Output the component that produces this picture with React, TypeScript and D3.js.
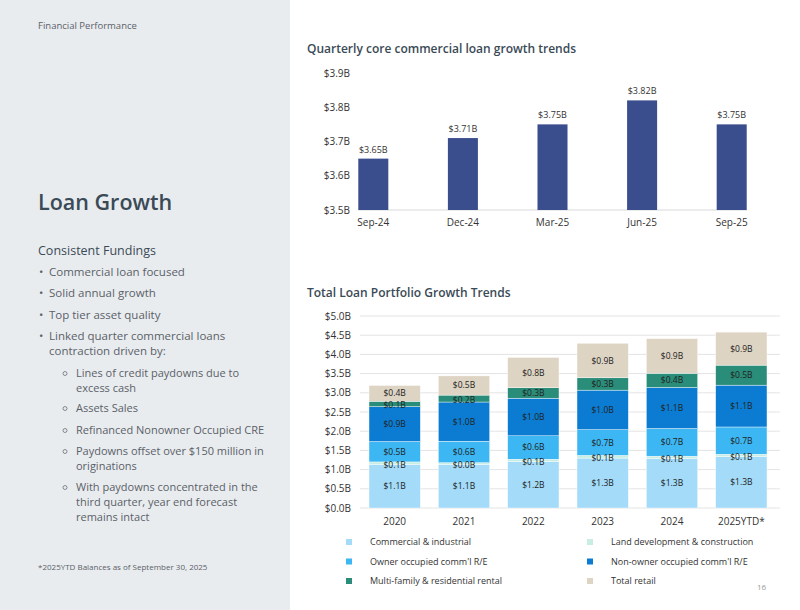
import React from 'react';
import * as d3 from 'd3';

// quarterly core commercial loans ($B)
const quarters = ['Sep-24', 'Dec-24', 'Mar-25', 'Jun-25', 'Sep-25'];
const coreLoans = [3.65, 3.71, 3.75, 3.82, 3.75];
const coreTicks = [3.5, 3.6, 3.7, 3.8, 3.9];

// total loan portfolio by type ($B)
const years = ['2020', '2021', '2022', '2023', '2024', '2025YTD*'];
const commercialIndustrial = [1.14, 1.14, 1.21, 1.3, 1.29, 1.34];
const landDevelopment = [0.06, 0.04, 0.06, 0.07, 0.06, 0.06];
const ownerOccupied = [0.53, 0.56, 0.61, 0.67, 0.72, 0.71];
const nonOwnerOccupied = [0.91, 1.02, 0.98, 1.03, 1.07, 1.09];
const multiFamily = [0.14, 0.18, 0.27, 0.32, 0.37, 0.52];
const totalRetail = [0.41, 0.5, 0.79, 0.9, 0.9, 0.86];
const portfolioTicks = [0, 0.5, 1, 1.5, 2, 2.5, 3, 3.5, 4, 4.5, 5];

const seriesNames = [
  'Commercial & industrial',
  'Land development & construction',
  'Owner occupied comm\'l R/E',
  'Non-owner occupied comm\'l R/E',
  'Multi-family & residential rental',
  'Total retail',
];
const seriesValues = [commercialIndustrial, landDevelopment, ownerOccupied, nonOwnerOccupied, multiFamily, totalRetail];
const seriesColors = ['#a3dbf9', '#c8eee4', '#3cb7f3', '#0b7cd1', '#2a8d79', '#ded4c4'];

const FONT = '"Open Sans", "Noto Sans", sans-serif';
const dark = '#3a4a56';
const body = '#5a6168';

const bullets: [string, number][] = [
  ['Commercial loan focused', 276],
  ['Solid annual growth', 297],
  ['Top tier asset quality', 319],
  ['Linked quarter commercial loans', 340],
];
const subBullets: [string[], number][] = [
  [['Lines of credit paydowns due to', 'excess cash'], 377],
  [['Assets Sales'], 412],
  [['Refinanced Nonowner Occupied CRE'], 434],
  [['Paydowns offset over $150 million in', 'originations'], 455],
  [['With paydowns concentrated in the', 'third quarter, year end forecast', 'remains intact'], 491],
];

const CoreChart: React.FC = () => {
  const x = d3.scaleBand<string>().domain(quarters).range([328.5, 776.5]).paddingInner(0.665).paddingOuter(0.3325);
  const y = d3.scaleLinear().domain([3.5, 3.9]).range([210, 73]);
  const bw = x.bandwidth();
  return (
    <g fontFamily={FONT}>
      <text x={307} y={53} fontSize={12} fontWeight={600} fill={dark}>Quarterly core commercial loan growth trends</text>
      {coreTicks.map(t => (
        <text key={t} x={350} y={y(t)} dy="0.35em" textAnchor="end" fontSize={10} fill="#333">{`$${t.toFixed(1)}B`}</text>
      ))}
      <line x1={x(quarters[0])!} x2={x(quarters[quarters.length - 1])! + bw} y1={y(3.5)} y2={y(3.5)} stroke="#d9d9d9" />
      {quarters.map((q, i) => (
        <g key={q}>
          <rect x={x(q)} y={y(coreLoans[i])} width={bw} height={y(3.5) - y(coreLoans[i])} fill="#3a4d8c" />
          <text x={x(q)! + bw / 2} y={y(coreLoans[i]) - 6} textAnchor="middle" fontSize={9} fill="#333">{`$${coreLoans[i].toFixed(2)}B`}</text>
          <text x={x(q)! + bw / 2} y={226} textAnchor="middle" fontSize={10} fill="#333">{q}</text>
        </g>
      ))}
    </g>
  );
};

const PortfolioChart: React.FC = () => {
  const table = years.map((yr, i) => {
    const row: Record<string, any> = { year: yr };
    seriesNames.forEach((s, k) => { row[s] = seriesValues[k][i]; });
    return row;
  });
  const stacked = d3.stack<Record<string, any>>().keys(seriesNames)(table);
  const x = d3.scaleBand<string>().domain(years).range([360, 776]).paddingInner(0.26).paddingOuter(0.13);
  const y = d3.scaleLinear().domain([0, 5]).range([508, 316]);
  const bw = x.bandwidth();
  // thin segments: push label a little away from the neighbour label above
  const nudge = (v: number) => (v < 0.2 ? 1.5 : 0);
  return (
    <g fontFamily={FONT}>
      <text x={307} y={297} fontSize={12} fontWeight={600} fill={dark}>Total Loan Portfolio Growth Trends</text>
      {portfolioTicks.map(t => (
        <g key={t}>
          <line x1={360} x2={780} y1={y(t)} y2={y(t)} stroke="#e4e4e4" />
          <text x={351} y={y(t)} dy="0.35em" textAnchor="end" fontSize={10} fill="#333">{`$${t.toFixed(1)}B`}</text>
        </g>
      ))}
      {stacked.map((layer, k) => (
        <g key={layer.key}>
          {layer.map((d, i) => (
            <rect key={i} x={x(years[i])} y={y(d[1])} width={bw} height={y(d[0]) - y(d[1])} fill={seriesColors[k]} stroke="#fff" strokeWidth={0.4} />
          ))}
        </g>
      ))}
      {stacked.map(layer => (
        <g key={layer.key + '-labels'}>
          {layer.map((d, i) => (
            <text key={i} x={x(years[i])! + bw / 2} y={(y(d[0]) + y(d[1])) / 2 + nudge(d[1] - d[0])} dy="0.35em" textAnchor="middle" fontSize={8.5} fill="#222">
              {`$${(d[1] - d[0]).toFixed(1)}B`}
            </text>
          ))}
        </g>
      ))}
      {years.map(yr => (
        <text key={yr} x={x(yr)! + bw / 2} y={525} textAnchor="middle" fontSize={10} fill="#333">{yr}</text>
      ))}
      {seriesNames.map((s, k) => {
        const col = k % 2;
        const row = Math.floor(k / 2);
        const lx = col === 0 ? 346 : 587;
        const ly = 542 + row * 19.5;
        return (
          <g key={s}>
            <rect x={lx} y={ly - 3} width={6} height={6} fill={seriesColors[k]} />
            <text x={lx + 24} y={ly} dy="0.35em" fontSize={9} fill="#333">{s}</text>
          </g>
        );
      })}
    </g>
  );
};

export default function App() {
  return (
    <>
      <style>{'body{margin:0}'}</style>
      <svg width={800} height={610} style={{ display: 'block' }}>
        <rect x={0} y={0} width={800} height={610} fill="#fff" />
        <rect x={0} y={0} width={290} height={610} fill="#e9ecef" />
        <g fontFamily={FONT}>
          <text x={38} y={29} fontSize={9.5} fill={body}>Financial Performance</text>
          <text x={38} y={210} fontSize={21.5} fontWeight={600} fill={dark}>Loan Growth</text>
          <text x={38} y={255} fontSize={12.5} fontWeight={500} fill={dark}>Consistent Fundings</text>
          {bullets.map(([t, by]) => (
            <g key={t}>
              <text x={39} y={by} fontSize={11.5} fill={body}>•</text>
              <text x={49} y={by} fontSize={11.5} fill={body}>{t}</text>
            </g>
          ))}
          <text x={49} y={355} fontSize={11.5} fill={body}>contraction driven by:</text>
          {subBullets.map(([lines, by]) => (
            <g key={lines[0]}>
              <circle cx={65} cy={by - 3.5} r={2} fill="none" stroke={body} strokeWidth={0.7} />
              {lines.map((l, j) => (
                <text key={l} x={76} y={by + j * 15} fontSize={11} fill={body}>{l}</text>
              ))}
            </g>
          ))}
          <text x={38} y={570} fontSize={8} fill={body}>*2025YTD Balances as of September 30, 2025</text>
          <text x={757} y={590} fontSize={8} fill="#999">16</text>
        </g>
        <CoreChart />
        <PortfolioChart />
      </svg>
    </>
  );
}
